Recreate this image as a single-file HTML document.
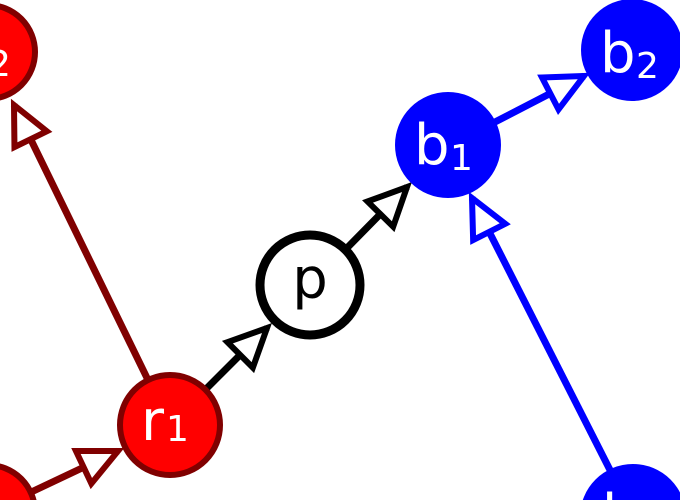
<!DOCTYPE html>
<html><head><style>html,body{margin:0;padding:0;background:#fff;overflow:hidden;width:680px;height:500px}svg{display:block;overflow:hidden}</style></head>
<body>
<svg width="680" height="500" viewBox="0 0 680 500" xmlns="http://www.w3.org/2000/svg" font-family="'DejaVu Sans','Liberation Sans',sans-serif">
<defs>
<marker id="ar" markerWidth="50" markerHeight="50" refX="38" refY="18" orient="auto" markerUnits="userSpaceOnUse" style="overflow:visible">
<path d="M0,0 L38,18 L0,36 Z" fill="#fff" stroke="#800000" stroke-width="6"/>
</marker>
<marker id="ak" markerWidth="50" markerHeight="50" refX="38" refY="18" orient="auto" markerUnits="userSpaceOnUse" style="overflow:visible">
<path d="M0,0 L38,18 L0,36 Z" fill="#fff" stroke="#000" stroke-width="6"/>
</marker>
<marker id="ab" markerWidth="50" markerHeight="50" refX="38" refY="18" orient="auto" markerUnits="userSpaceOnUse" style="overflow:visible">
<path d="M0,0 L38,18 L0,36 Z" fill="#fff" stroke="#00f" stroke-width="6"/>
</marker>
</defs>
<g stroke-width="7" fill="none">
<line x1="148" y1="380" x2="14" y2="105" stroke="#800000" marker-end="url(#ar)"/>
<line x1="25" y1="495" x2="118" y2="451" stroke="#800000" marker-end="url(#ar)"/>
<line x1="205" y1="390" x2="267" y2="328" stroke="#000" marker-end="url(#ak)"/>
<line x1="345" y1="250" x2="407" y2="187" stroke="#000" marker-end="url(#ak)"/>
<line x1="495" y1="122" x2="584" y2="76" stroke="#00f" marker-end="url(#ab)"/>
<line x1="610" y1="470" x2="472" y2="198" stroke="#00f" marker-end="url(#ab)"/>
</g>
<circle cx="-12" cy="52" r="47" fill="#f00" stroke="#800000" stroke-width="6"/>
<text x="-40" y="72" font-size="56" fill="#fff">r</text>
<text x="-12" y="76" font-size="36" fill="#fff">2</text>
<circle cx="-12" cy="512" r="47" fill="#f00" stroke="#800000" stroke-width="6"/>
<circle cx="170" cy="425" r="50" fill="#f00" stroke="#800000" stroke-width="6"/>
<text x="141" y="440" font-size="56" fill="#fff">r</text>
<text x="166" y="441" font-size="36" fill="#fff">1</text>
<circle cx="310" cy="285" r="50" fill="#fff" stroke="#000" stroke-width="9"/>
<text x="310" y="298" font-size="56" fill="#000" text-anchor="middle">p</text>
<circle cx="448" cy="145" r="53" fill="#00f"/>
<text x="414" y="164" font-size="56" fill="#fff">b</text>
<text x="450" y="170" font-size="36" fill="#fff">1</text>
<circle cx="632" cy="50" r="51" fill="#00f"/>
<text x="600" y="72" font-size="56" fill="#fff">b</text>
<text x="636" y="78" font-size="36" fill="#fff">2</text>
<circle cx="633" cy="517" r="53" fill="#00f"/>
<text x="602" y="534" font-size="56" fill="#fff">b</text>
</svg>
</body></html>
